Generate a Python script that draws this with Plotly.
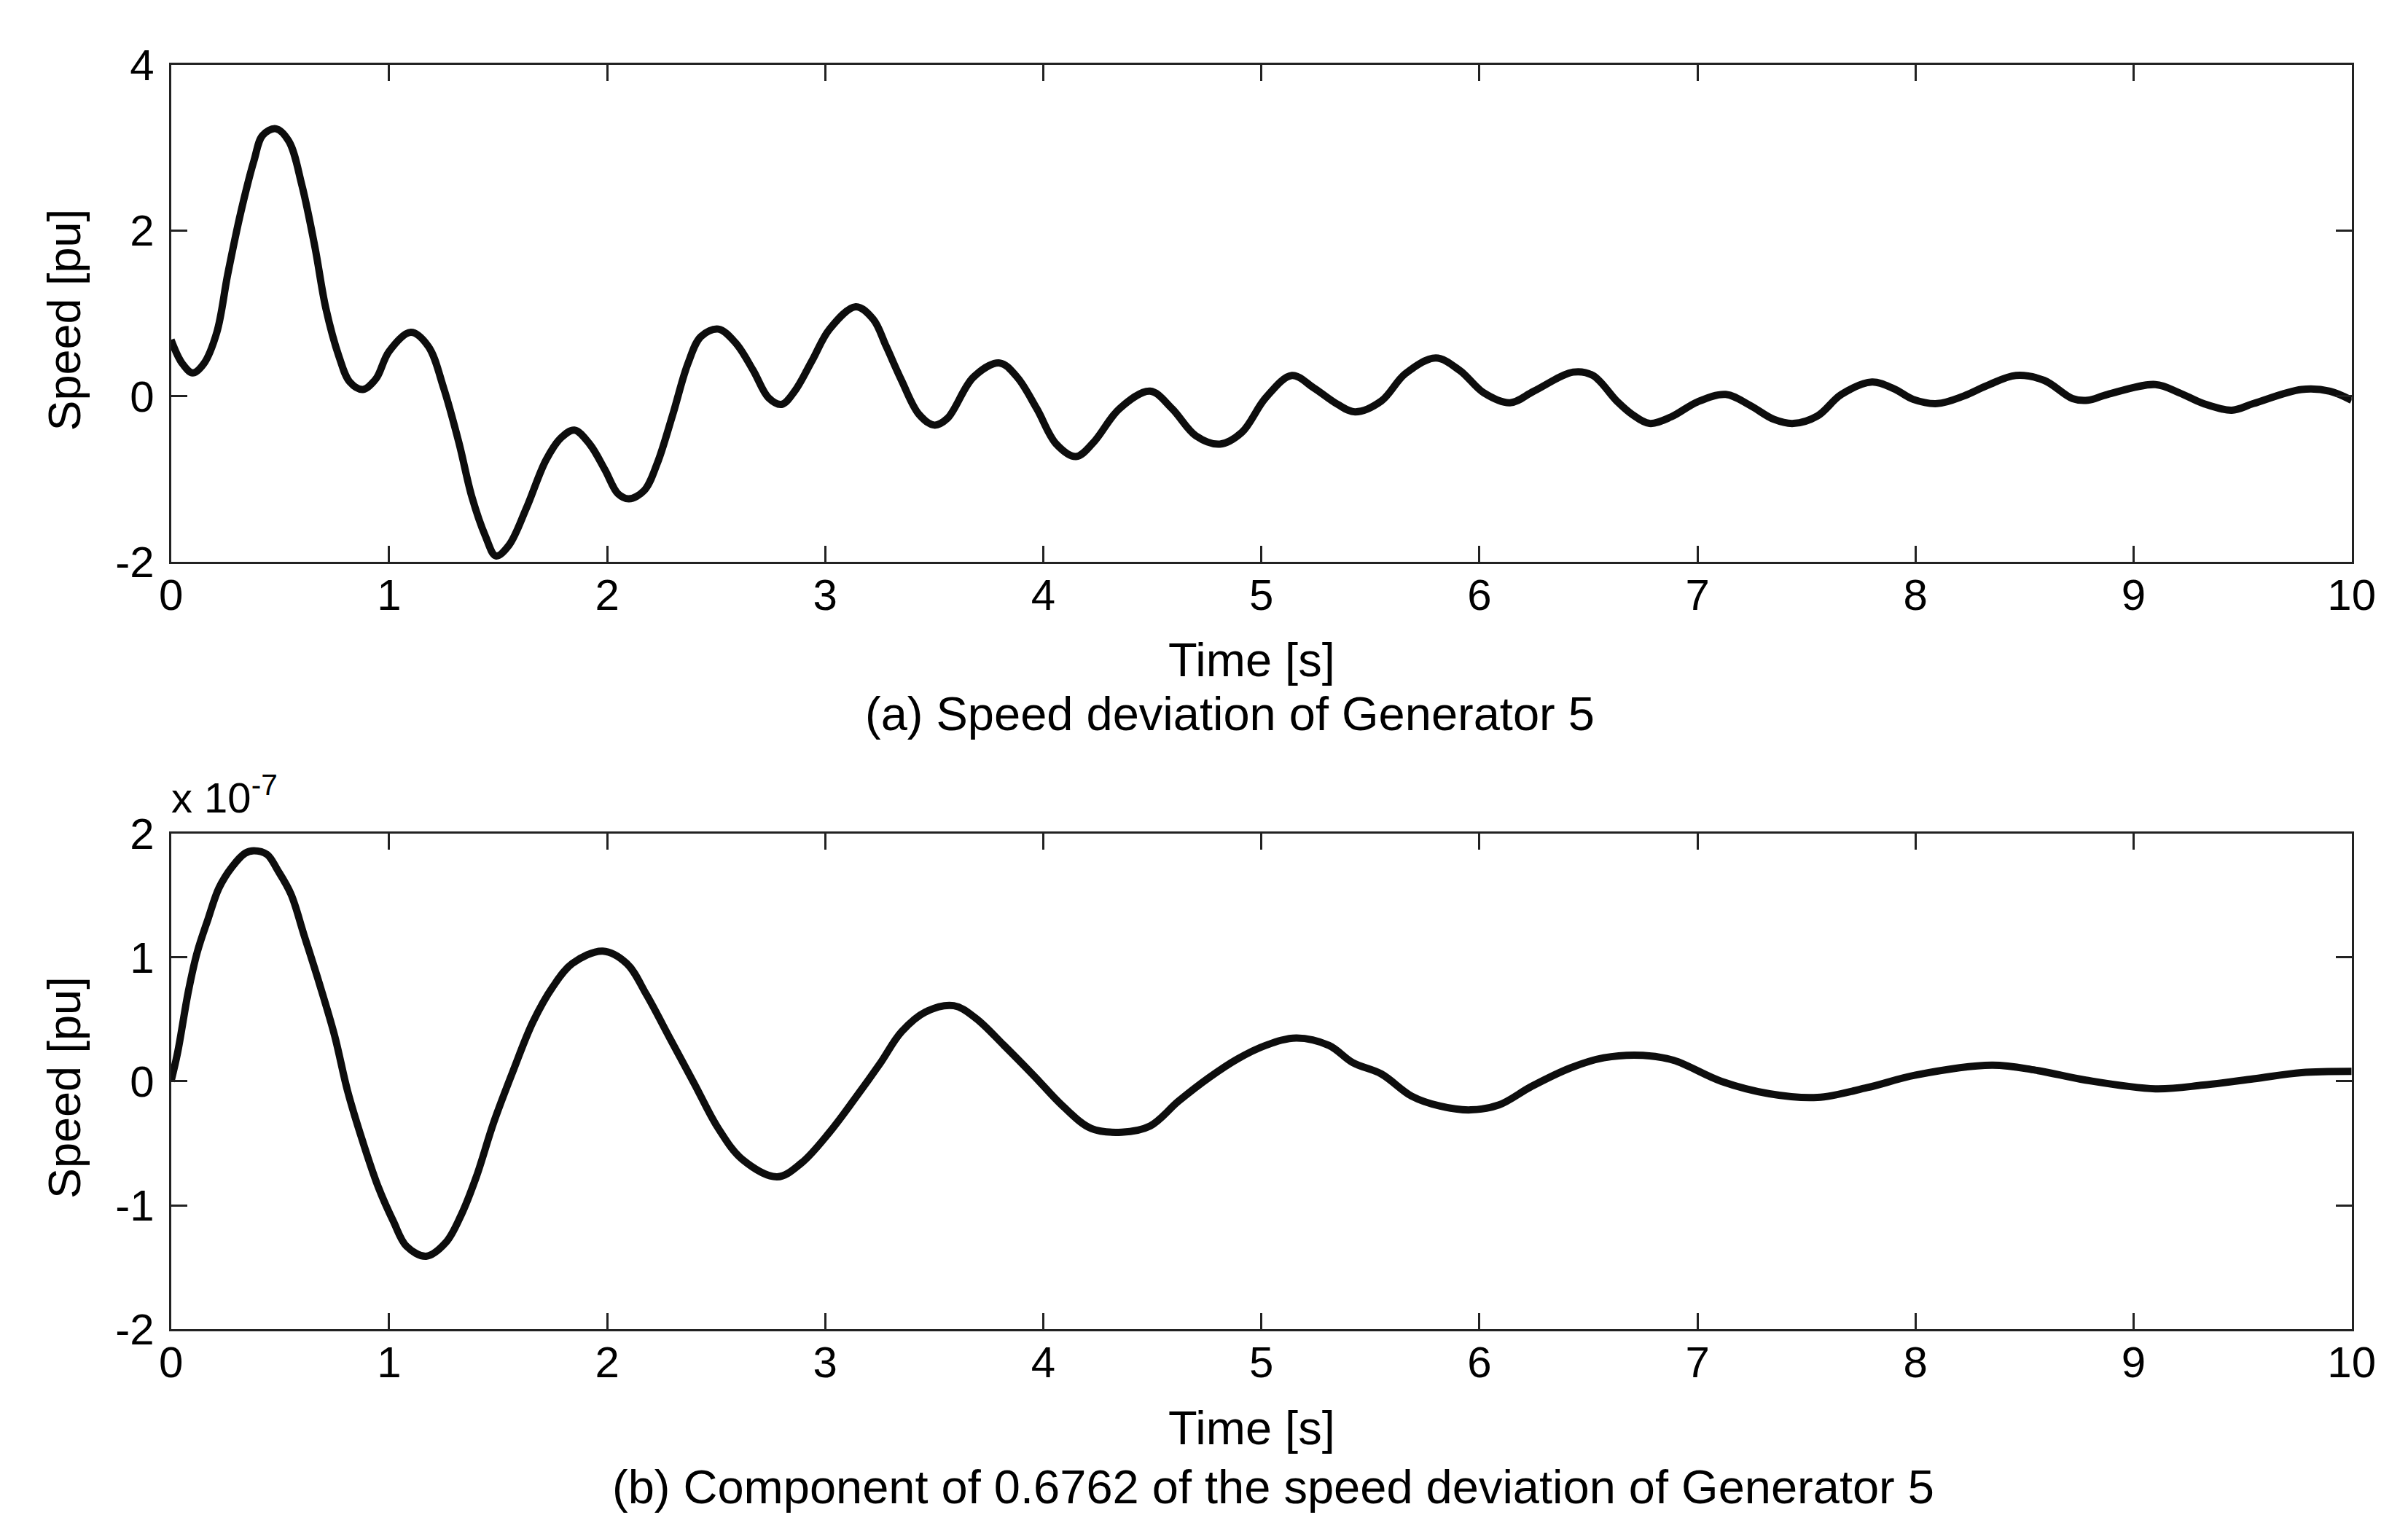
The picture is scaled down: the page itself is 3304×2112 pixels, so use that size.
import plotly.graph_objects as go

# ---- data ----
time_a = [0.00, 0.05, 0.10, 0.15, 0.21, 0.26, 0.32, 0.38, 0.42, 0.48, 0.54, 0.60, 0.66, 0.71, 0.77,
          0.82, 0.88, 0.94, 1.00, 1.10, 1.18, 1.25, 1.32, 1.38, 1.44, 1.49, 1.55, 1.63, 1.72, 1.79,
          1.85, 1.92, 1.99, 2.05, 2.10, 2.17, 2.23, 2.30, 2.37, 2.43, 2.51, 2.59, 2.67, 2.74, 2.80,
          2.86, 2.94, 3.02, 3.14, 3.22, 3.28, 3.35, 3.43, 3.50, 3.56, 3.68, 3.80, 3.88, 3.97, 4.06,
          4.15, 4.23, 4.35, 4.49, 4.59, 4.70, 4.81, 4.91, 5.02, 5.14, 5.24, 5.35, 5.43, 5.55, 5.66,
          5.80, 5.91, 6.02, 6.14, 6.25, 6.43, 6.52, 6.63, 6.70, 6.78, 6.88, 7.00, 7.13, 7.24, 7.35,
          7.44, 7.55, 7.66, 7.80, 7.90, 7.99, 8.10, 8.22, 8.33, 8.46, 8.59, 8.72, 8.79, 8.88, 9.10,
          9.21, 9.32, 9.45, 9.55, 9.77, 9.90, 10.0]
speed_a = [0.68, 0.40, 0.28, 0.39, 0.77, 1.47, 2.22, 2.84, 3.15, 3.23, 3.08, 2.55, 1.80, 1.06, 0.48,
           0.17, 0.08, 0.21, 0.54, 0.77, 0.60, 0.10, -0.56, -1.22, -1.68, -1.93, -1.80, -1.35, -0.77, -0.50,
           -0.41, -0.58, -0.89, -1.18, -1.24, -1.14, -0.81, -0.23, 0.39, 0.72, 0.81, 0.64, 0.31, -0.02, -0.10,
           0.06, 0.43, 0.81, 1.08, 0.93, 0.60, 0.19, -0.22, -0.35, -0.27, 0.23, 0.40, 0.23, -0.15, -0.58,
           -0.73, -0.56, -0.15, 0.06, -0.15, -0.48, -0.58, -0.44, -0.02, 0.25, 0.10, -0.10, -0.19, -0.06, 0.27,
           0.46, 0.31, 0.04, -0.08, 0.06, 0.29, 0.25, -0.06, -0.22, -0.33, -0.25, -0.07, 0.02, -0.11, -0.28,
           -0.33, -0.24, 0.02, 0.17, 0.09, -0.04, -0.09, 0.00, 0.13, 0.25, 0.19, -0.03, -0.05, 0.02, 0.14,
           0.04, -0.09, -0.17, -0.09, 0.08, 0.06, -0.05]

time_b = [0.0, 0.03, 0.08, 0.12, 0.17, 0.22, 0.28, 0.34, 0.38, 0.44, 0.49, 0.55, 0.61, 0.68, 0.75,
          0.81, 0.88, 0.95, 1.02, 1.08, 1.17, 1.26, 1.33, 1.40, 1.48, 1.57, 1.66, 1.75, 1.84, 1.98,
          2.09, 2.18, 2.29, 2.40, 2.51, 2.62, 2.78, 2.89, 3.02, 3.14, 3.25, 3.35, 3.46, 3.59, 3.69,
          3.82, 3.96, 4.09, 4.22, 4.36, 4.49, 4.62, 4.76, 4.89, 5.02, 5.16, 5.31, 5.42, 5.55, 5.69,
          5.82, 5.96, 6.09, 6.24, 6.42, 6.57, 6.75, 6.89, 7.11, 7.33, 7.55, 7.78, 8.0, 8.35, 8.55,
          8.78, 9.1, 9.32, 9.55, 9.77, 10.0]
speed_b = [0.0, 0.23, 0.73, 1.04, 1.31, 1.56, 1.73, 1.84, 1.86, 1.83, 1.70, 1.51, 1.18, 0.79, 0.37,
           -0.08, -0.49, -0.85, -1.13, -1.33, -1.41, -1.30, -1.08, -0.77, -0.33, 0.09, 0.48, 0.76, 0.95, 1.05,
           0.95, 0.70, 0.34, -0.02, -0.38, -0.63, -0.77, -0.66, -0.41, -0.13, 0.14, 0.40, 0.56, 0.61, 0.51,
           0.29, 0.04, -0.20, -0.38, -0.41, -0.36, -0.16, 0.03, 0.18, 0.29, 0.35, 0.29, 0.15, 0.06, -0.12,
           -0.20, -0.23, -0.19, -0.04, 0.11, 0.19, 0.21, 0.17, 0.0, -0.10, -0.13, -0.05, 0.05, 0.13, 0.09,
           0.01, -0.06, -0.03, 0.02, 0.07, 0.08]  # in units of 1e-7

x_ticks = list(range(0, 11))
x_tick_text = [str(v) for v in x_ticks]
y_ticks_a = [-2, 0, 2, 4]
y_tick_text_a = ["-2", "0", "2", "4"]
y_ticks_b = [-2, -1, 0, 1, 2]
y_tick_text_b = ["-2", "-1", "0", "1", "2"]

# ---- figure ----
W, H = 3304, 2112
FONT = "Liberation Sans, Arial, Helvetica, sans-serif"
fs_tick = 60
fs_text = 65
fs_ytitle = 63

fig = go.Figure()
line_style = dict(color="#0d0d0d", width=10, shape="spline", smoothing=1.0)
fig.add_trace(go.Scatter(x=time_a, y=speed_a, mode="lines", line=line_style,
                         xaxis="x", yaxis="y", showlegend=False))
fig.add_trace(go.Scatter(x=time_b, y=speed_b, mode="lines", line=line_style,
                         xaxis="x2", yaxis="y2", showlegend=False))

def px_x(p):
    return p / W

def px_y(p):
    return 1 - p / H

LEFT, RIGHT = 221, 3259
xdom = [px_x(LEFT), px_x(RIGHT)]
axis_common = dict(showline=True, linecolor="#222", linewidth=3, mirror="ticks",
                   ticks="inside", ticklen=22, tickwidth=2.5, tickcolor="#222",
                   showgrid=False, zeroline=False,
                   tickfont=dict(family=FONT, size=fs_tick, color="black"))

fig.update_layout(
    width=W, height=H,
    margin=dict(l=0, r=0, t=0, b=0),
    paper_bgcolor="white", plot_bgcolor="white",
    font=dict(family=FONT, color="black"),
    xaxis=dict(domain=xdom, range=[0, 10], tickvals=x_ticks, ticktext=x_tick_text, anchor="y",
               ticklabelstandoff=-9, **axis_common),
    yaxis=dict(domain=[px_y(762), px_y(58)], range=[-2, 4], tickvals=y_ticks_a, ticktext=y_tick_text_a,
               anchor="x", ticklabelstandoff=8, **axis_common),
    xaxis2=dict(domain=xdom, range=[0, 10], tickvals=x_ticks, ticktext=x_tick_text, anchor="y2",
                ticklabelstandoff=-9, **axis_common),
    yaxis2=dict(domain=[px_y(1850), px_y(1147)], range=[-2, 2], tickvals=y_ticks_b, ticktext=y_tick_text_b,
                anchor="x2", ticklabelstandoff=8, **axis_common),
)

ann = [
    dict(text="Time [s]", x=px_x(1727), y=px_y(901)),
    dict(text="(a) Speed deviation of Generator 5", x=px_x(1696), y=px_y(977)),
    dict(text="Time [s]", x=px_x(1727), y=px_y(1990)),
    dict(text="(b) Component of 0.6762 of the speed deviation of Generator 5", x=px_x(1757), y=px_y(2073)),
    dict(text="Speed [pu]", x=px_x(72), y=px_y(419), textangle=-90,
         font=dict(family=FONT, size=fs_ytitle, color="black")),
    dict(text="Speed [pu]", x=px_x(72), y=px_y(1507), textangle=-90,
         font=dict(family=FONT, size=fs_ytitle, color="black")),
]
annotations = []
for a in ann:
    d = dict(xref="paper", yref="paper", showarrow=False, xanchor="center", yanchor="middle",
             font=dict(family=FONT, size=fs_text, color="black"))
    d.update(a)
    annotations.append(d)
annotations.append(dict(text="x 10<sup>-7</sup>", xref="paper", yref="paper", x=px_x(219), y=px_y(1092),
                        xanchor="left", yanchor="middle", showarrow=False,
                        font=dict(family=FONT, size=58, color="black")))
fig.update_layout(annotations=annotations)

fig.write_html("out.html")
